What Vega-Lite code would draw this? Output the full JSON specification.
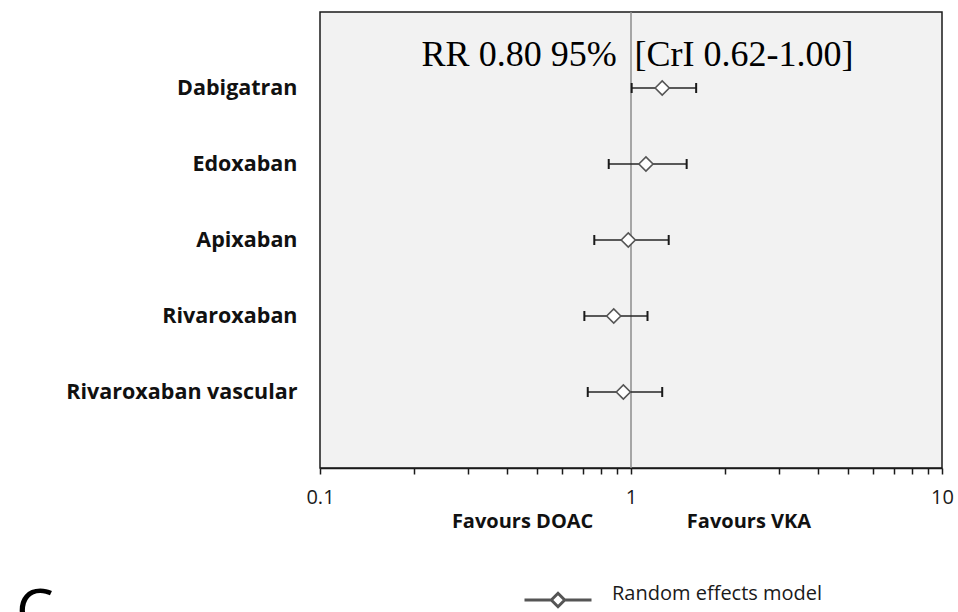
{
  "$schema": "https://vega.github.io/schema/vega-lite/v6.json",
  "width": 622,
  "height": 456,
  "autosize": {"type": "none"},
  "padding": {"left": 320, "top": 12, "right": 16, "bottom": 144},
  "background": "white",
  "config": {
    "font": "Open Sans",
    "view": {"fill": "#f2f2f2", "stroke": "#1a1a1a", "strokeWidth": 1.5}
  },
  "title": {
    "text": "C",
    "orient": "bottom",
    "anchor": "start",
    "frame": "group",
    "dx": -304,
    "offset": -28,
    "font": "Open Sans",
    "fontSize": 60,
    "fontWeight": "normal",
    "color": "#000000"
  },
  "datasets": {
    "drugs": [
      {"drug": "Dabigatran", "rr": 1.26, "low": 1.005, "high": 1.62, "model": "Random effects model"},
      {"drug": "Edoxaban", "rr": 1.117, "low": 0.848, "high": 1.51, "model": "Random effects model"},
      {"drug": "Apixaban", "rr": 0.98, "low": 0.762, "high": 1.322, "model": "Random effects model"},
      {"drug": "Rivaroxaban", "rr": 0.88, "low": 0.708, "high": 1.13, "model": "Random effects model"},
      {"drug": "Rivaroxaban vascular", "rr": 0.945, "low": 0.726, "high": 1.26, "model": "Random effects model"}
    ],
    "ref": [{"ref": 1}],
    "note": [{"drug": "Dabigatran", "pos": 1.05, "text": "RR 0.80 95%\u00a0 [CrI 0.62-1.00]"}]
  },
  "layer": [
    {
      "data": {"name": "ref"},
      "mark": {"type": "rule", "color": "#8c8c8c", "strokeWidth": 1.5},
      "encoding": {
        "x": {
          "field": "ref",
          "type": "quantitative",
          "scale": {"type": "log", "domain": [0.1, 10], "nice": false},
          "axis": {
            "values": [0.1, 0.2, 0.3, 0.4, 0.5, 0.6, 0.7, 0.8, 0.9, 1, 2, 3, 4, 5, 6, 7, 8, 9, 10],
            "labelExpr": "datum.value == 0.1 ? '0.1' : (datum.value == 1 ? '1' : (datum.value == 10 ? '10' : ''))",
            "labelFlush": false,
            "labelOverlap": false,
            "grid": false,
            "domain": true,
            "domainColor": "#1a1a1a",
            "domainWidth": 1.5,
            "ticks": true,
            "tickColor": "#1a1a1a",
            "tickWidth": 1.5,
            "tickSize": 6,
            "labelFont": "Open Sans",
            "labelFontSize": 20,
            "labelColor": "#1a1a1a",
            "labelPadding": 13,
            "title": "Favours DOAC\u00a0\u00a0\u00a0\u00a0\u00a0\u00a0\u00a0\u00a0\u00a0\u00a0\u00a0\u00a0\u00a0\u00a0\u00a0\u00a0\u00a0\u00a0Favours VKA",
            "titleFont": "Open Sans",
            "titleFontSize": 20,
            "titleFontWeight": "bold",
            "titleColor": "#111111",
            "titlePadding": 4
          }
        }
      }
    },
    {
      "data": {"name": "drugs"},
      "mark": {"type": "rule", "color": "#262626", "strokeWidth": 1.5},
      "encoding": {
        "y": {
          "field": "drug",
          "type": "nominal",
          "sort": null,
          "scale": {"type": "point", "padding": 1},
          "axis": {
            "title": null,
            "domain": false,
            "ticks": false,
            "grid": false,
            "labelFont": "Open Sans",
            "labelFontSize": 21.5,
            "labelFontWeight": "bold",
            "labelColor": "#111111",
            "labelPadding": 23,
            "labelLimit": 400
          }
        },
        "x": {"field": "low", "type": "quantitative"},
        "x2": {"field": "high"}
      }
    },
    {
      "data": {"name": "drugs"},
      "mark": {"type": "tick", "color": "#1a1a1a", "thickness": 2, "size": 10, "opacity": 1},
      "encoding": {
        "y": {"field": "drug", "type": "nominal", "sort": null},
        "x": {"field": "low", "type": "quantitative"}
      }
    },
    {
      "data": {"name": "drugs"},
      "mark": {"type": "tick", "color": "#1a1a1a", "thickness": 2, "size": 10, "opacity": 1},
      "encoding": {
        "y": {"field": "drug", "type": "nominal", "sort": null},
        "x": {"field": "high", "type": "quantitative"}
      }
    },
    {
      "data": {"name": "drugs"},
      "mark": {"type": "point", "shape": "diamond", "size": 200, "filled": false, "fill": "white", "fillOpacity": 1, "strokeWidth": 1.6, "opacity": 1},
      "encoding": {
        "y": {"field": "drug", "type": "nominal", "sort": null},
        "x": {"field": "rr", "type": "quantitative"},
        "color": {
          "field": "model",
          "type": "nominal",
          "scale": {"range": ["#555555"]},
          "legend": {
            "orient": "none",
            "legendX": 203,
            "legendY": 553,
            "title": null,
            "padding": 0,
            "symbolType": "M-1,0L-0.2,0M0.2,0L1,0M-0.2,0L0,-0.2L0.2,0L0,0.2Z",
            "symbolSize": 4489,
            "symbolStrokeWidth": 3,
            "symbolFillColor": "white",
            "symbolStrokeColor": "#404040",
            "labelFont": "Open Sans",
            "labelFontSize": 20,
            "labelColor": "#1a1a1a",
            "labelOffset": 19,
            "labelBaseline": "alphabetic",
            "labelLimit": 400,
            "encode": {"symbols": {"update": {"fill": {"value": "white"}, "stroke": {"value": "#3a3a3a"}, "strokeWidth": {"value": 3}}}}
          }
        }
      }
    },
    {
      "data": {"name": "note"},
      "mark": {"type": "text", "font": "Liberation Serif", "fontSize": 36, "color": "#000000", "align": "center", "baseline": "alphabetic", "dy": -22},
      "encoding": {
        "y": {"field": "drug", "type": "nominal", "sort": null},
        "x": {"field": "pos", "type": "quantitative"},
        "text": {"field": "text"}
      }
    }
  ]
}
